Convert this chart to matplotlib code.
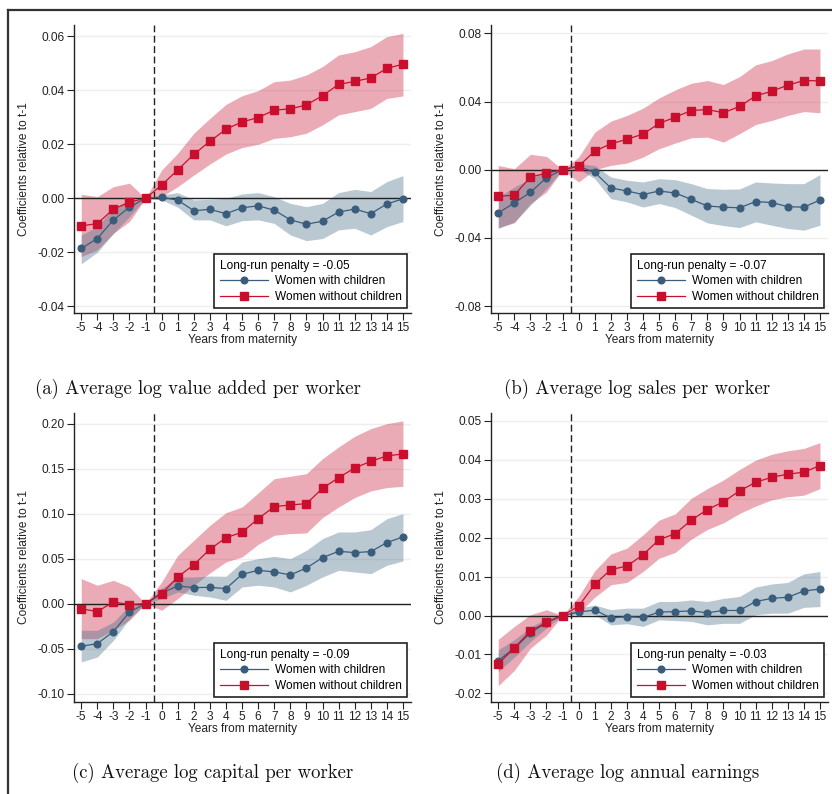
import matplotlib
matplotlib.use("Agg")
import matplotlib.pyplot as plt
from matplotlib.lines import Line2D

plt.rcParams['font.family'] = ['Liberation Sans', 'DejaVu Sans']
plt.rcParams['axes.unicode_minus'] = False

years = list(range(-5, 16))

# (a) value added per worker
a_with = [-0.0186, -0.0149, -0.0080, -0.0033, 0.0, 0.0004, -0.0007, -0.0046, -0.0041, -0.0057, -0.0035,
          -0.0028, -0.0044, -0.0080, -0.0096, -0.0085, -0.0051, -0.0040, -0.0057, -0.0021, -0.0002]
a_with_lo = [-0.0243, -0.0200, -0.0130, -0.0068, 0.0, -0.0006, -0.0033, -0.0080, -0.0080, -0.0102, -0.0083,
             -0.0080, -0.0093, -0.0136, -0.0157, -0.0149, -0.0117, -0.0111, -0.0136, -0.0105, -0.0086]
a_with_hi = [-0.0136, -0.0105, -0.0037, -0.0006, 0.0, 0.0012, 0.0021, -0.0006, -0.0004, 0.0000, 0.0016,
             0.0021, 0.0006, -0.0019, -0.0031, -0.0019, 0.0021, 0.0033, 0.0025, 0.0062, 0.0084]
a_without = [-0.0102, -0.0094, -0.0040, -0.0014, 0.0, 0.0049, 0.0105, 0.0163, 0.0211, 0.0256, 0.0283,
             0.0299, 0.0327, 0.0331, 0.0346, 0.0380, 0.0422, 0.0433, 0.0446, 0.0481, 0.0497]
a_without_lo = [-0.0216, -0.0191, -0.0130, -0.0086, 0.0, 0.0006, 0.0043, 0.0086, 0.0127, 0.0164, 0.0188,
                0.0200, 0.0222, 0.0228, 0.0241, 0.0272, 0.0309, 0.0321, 0.0333, 0.0370, 0.0379]
a_without_hi = [0.0015, 0.0006, 0.0043, 0.0056, 0.0, 0.0105, 0.0167, 0.0241, 0.0296, 0.0348, 0.0380,
                0.0399, 0.0432, 0.0438, 0.0457, 0.0488, 0.0531, 0.0543, 0.0562, 0.0599, 0.0611]

# (b) sales per worker
b_with = [-0.0254, -0.0195, -0.0133, -0.0047, 0.0, 0.0020, -0.0016, -0.0107, -0.0125, -0.0146, -0.0125,
          -0.0137, -0.0174, -0.0213, -0.0220, -0.0224, -0.0187, -0.0193, -0.0217, -0.0220, -0.0178]
b_with_lo = [-0.0345, -0.0306, -0.0209, -0.0111, 0.0, 0.0006, -0.0053, -0.0170, -0.0189, -0.0219, -0.0199,
             -0.0222, -0.0267, -0.0312, -0.0328, -0.0340, -0.0306, -0.0326, -0.0345, -0.0355, -0.0326]
b_with_hi = [-0.0160, -0.0101, -0.0053, -0.0004, 0.0, 0.0035, 0.0025, -0.0043, -0.0062, -0.0072, -0.0053,
             -0.0059, -0.0082, -0.0111, -0.0115, -0.0113, -0.0072, -0.0078, -0.0082, -0.0082, -0.0029]
b_without = [-0.0156, -0.0150, -0.0043, -0.0020, 0.0, 0.0021, 0.0109, 0.0152, 0.0178, 0.0209, 0.0271,
             0.0308, 0.0347, 0.0353, 0.0334, 0.0371, 0.0433, 0.0460, 0.0496, 0.0523, 0.0521]
b_without_lo = [-0.0340, -0.0312, -0.0199, -0.0131, 0.0, -0.0072, 0.0000, 0.0025, 0.0039, 0.0074, 0.0123,
                0.0156, 0.0187, 0.0191, 0.0162, 0.0211, 0.0265, 0.0289, 0.0318, 0.0341, 0.0334]
b_without_hi = [0.0025, 0.0006, 0.0090, 0.0078, 0.0, 0.0074, 0.0220, 0.0285, 0.0318, 0.0361, 0.0421,
                0.0468, 0.0507, 0.0523, 0.0500, 0.0546, 0.0615, 0.0640, 0.0679, 0.0708, 0.0708]

# (c) capital per worker
c_with = [-0.0474, -0.0444, -0.0311, -0.0093, 0.0, 0.0119, 0.0196, 0.0178, 0.0181, 0.0167, 0.0326,
          0.0370, 0.0352, 0.0319, 0.0396, 0.0511, 0.0581, 0.0567, 0.0578, 0.0678, 0.0741]
c_with_lo = [-0.0648, -0.0593, -0.0407, -0.0167, 0.0, 0.0056, 0.0130, 0.0093, 0.0074, 0.0037, 0.0185,
             0.0204, 0.0185, 0.0130, 0.0204, 0.0296, 0.0370, 0.0352, 0.0333, 0.0426, 0.0474]
c_with_hi = [-0.0296, -0.0296, -0.0204, -0.0019, 0.0, 0.0167, 0.0296, 0.0296, 0.0307, 0.0304, 0.0463,
             0.0500, 0.0526, 0.0500, 0.0593, 0.0722, 0.0796, 0.0796, 0.0822, 0.0944, 0.1000]
c_without = [-0.0056, -0.0089, 0.0019, -0.0011, 0.0, 0.0111, 0.0296, 0.0433, 0.0604, 0.0733, 0.0793,
             0.0944, 0.1078, 0.1096, 0.1111, 0.1281, 0.1400, 0.1507, 0.1581, 0.1641, 0.1663]
c_without_lo = [-0.0389, -0.0389, -0.0296, -0.0185, 0.0, -0.0074, 0.0056, 0.0204, 0.0341, 0.0463, 0.0519,
                0.0659, 0.0759, 0.0778, 0.0785, 0.0956, 0.1074, 0.1178, 0.1252, 0.1289, 0.1304]
c_without_hi = [0.0278, 0.0204, 0.0259, 0.0185, 0.0, 0.0241, 0.0537, 0.0704, 0.0870, 0.1011, 0.1074,
                0.1230, 0.1389, 0.1415, 0.1444, 0.1611, 0.1741, 0.1859, 0.1944, 0.2000, 0.2030]

# (d) annual earnings
d_with = [-0.0116, -0.0084, -0.0045, -0.0018, 0.0, 0.0009, 0.0014, -0.0006, -0.0003, -0.0005, 0.0009,
          0.0010, 0.0012, 0.0007, 0.0013, 0.0013, 0.0036, 0.0044, 0.0047, 0.0063, 0.0068]
d_with_lo = [-0.0144, -0.0107, -0.0067, -0.0032, 0.0, 0.0002, 0.0002, -0.0024, -0.0021, -0.0028, -0.0011,
             -0.0013, -0.0015, -0.0024, -0.0020, -0.0020, 0.0002, 0.0006, 0.0006, 0.0021, 0.0023]
d_with_hi = [-0.0088, -0.0062, -0.0030, -0.0007, 0.0, 0.0019, 0.0027, 0.0015, 0.0019, 0.0019, 0.0036,
             0.0036, 0.0040, 0.0036, 0.0044, 0.0049, 0.0073, 0.0081, 0.0085, 0.0107, 0.0113]
d_without = [-0.0124, -0.0083, -0.0040, -0.0017, 0.0, 0.0024, 0.0080, 0.0118, 0.0127, 0.0156, 0.0195,
             0.0210, 0.0245, 0.0272, 0.0292, 0.0320, 0.0342, 0.0355, 0.0363, 0.0368, 0.0385]
d_without_lo = [-0.0180, -0.0141, -0.0084, -0.0050, 0.0, 0.0006, 0.0047, 0.0079, 0.0085, 0.0113, 0.0147,
                0.0162, 0.0196, 0.0221, 0.0238, 0.0262, 0.0281, 0.0297, 0.0305, 0.0309, 0.0326]
d_without_hi = [-0.0061, -0.0028, 0.0002, 0.0015, 0.0, 0.0049, 0.0115, 0.0158, 0.0173, 0.0207, 0.0245,
                0.0261, 0.0301, 0.0326, 0.0348, 0.0375, 0.0399, 0.0414, 0.0423, 0.0429, 0.0444]

penalties = ['-0.05', '-0.07', '-0.09', '-0.03']
captions = ['(a) Average log value added per worker', '(b) Average log sales per worker',
            '(c) Average log capital per worker', '(d) Average log annual earnings']
yticks_list = [[-0.04, -0.02, 0.00, 0.02, 0.04, 0.06],
               [-0.08, -0.04, 0.00, 0.04, 0.08],
               [-0.10, -0.05, 0.00, 0.05, 0.10, 0.15, 0.20],
               [-0.02, -0.01, 0.00, 0.01, 0.02, 0.03, 0.04, 0.05]]
ylims = [(-0.0425, 0.0642), (-0.0841, 0.0849), (-0.1093, 0.2118), (-0.0222, 0.0520)]

panels = [
    (a_with, a_with_lo, a_with_hi, a_without, a_without_lo, a_without_hi),
    (b_with, b_with_lo, b_with_hi, b_without, b_without_lo, b_without_hi),
    (c_with, c_with_lo, c_with_hi, c_without, c_without_lo, c_without_hi),
    (d_with, d_with_lo, d_with_hi, d_without, d_without_lo, d_without_hi),
]

blue = '#3a5d7c'
red = '#c8102e'
W, H = 832, 794

fig = plt.figure(figsize=(8.32, 7.94), dpi=100)

# axes boxes in pixels: left, top, right, bottom
boxes = [(74, 25, 411, 313), (491, 25, 828, 313), (74, 413, 411, 702), (491, 413, 828, 702)]
caption_pos = [(198, 389), (637, 389), (213, 773), (628, 773)]

for i, (wi, wi_lo, wi_hi, wo, wo_lo, wo_hi) in enumerate(panels):
    l, t, r, b = boxes[i]
    ax = fig.add_axes([l / W, (H - b) / H, (r - l) / W, (b - t) / H])

    ax.fill_between(years, wo_lo, wo_hi, color=red, alpha=0.35, linewidth=0)
    ax.fill_between(years, wi_lo, wi_hi, color='#4a6f8a', alpha=0.38, linewidth=0)

    ax.axhline(0, color='#222222', linewidth=1.0, zorder=2)
    ax.axvline(-0.5, color='#222222', linewidth=1.0, linestyle=(0, (5, 2.5)), zorder=2)

    ax.plot(years, wi, color=blue, marker='o', markersize=4.8, linewidth=0.9,
            label='Women with children', zorder=3)
    ax.plot(years, wo, color=red, marker='s', markersize=5.2, linewidth=0.9,
            label='Women without children', zorder=4)

    ax.set_xlim(-5.45, 15.5)
    ax.set_ylim(*ylims[i])
    ax.set_xticks(years)
    ax.set_yticks(yticks_list[i])
    ax.set_yticklabels(['%.2f' % v for v in yticks_list[i]])
    ax.grid(axis='y', color='#eeeeee', linewidth=1.0)
    ax.set_axisbelow(True)

    for s in ['top', 'right']:
        ax.spines[s].set_visible(False)
    for s in ['left', 'bottom']:
        ax.spines[s].set_color('#222222')
        ax.spines[s].set_linewidth(1.0)
    ax.tick_params(direction='out', length=5, width=0.8, color='#222222',
                   labelsize=8.6, labelcolor='#222222', pad=1.5)

    ax.set_ylabel('Coefficients relative to t-1', fontsize=8.6, color='#222222', labelpad=6)
    ax.set_xlabel('Years from maternity', fontsize=8.6, color='#222222', labelpad=0)

    leg = ax.legend(loc='lower right', bbox_to_anchor=(0.988, 0.016), borderaxespad=0,
                    title='Long-run penalty = ' + penalties[i], title_fontsize=8.6,
                    alignment='left', fontsize=8.6, fancybox=False, framealpha=1,
                    edgecolor='#222222', handlelength=4.0, handletextpad=0.6,
                    labelspacing=0.3, borderpad=0.45)
    leg.get_frame().set_linewidth(1.2)

    cx, cy = caption_pos[i]
    fig.text(cx / W, (H - cy) / H, captions[i], family='cmr10', fontsize=13.5,
             ha='center', va='center', color='#111111')

# border around the figure (top and left sides)
fig.add_artist(Line2D([8 / W, 8 / W], [0, (H - 10) / H], color='#333333', linewidth=1.6))
fig.add_artist(Line2D([8 / W, 1], [(H - 10) / H, (H - 10) / H], color='#333333', linewidth=1.6))

plt.savefig('out.png', dpi=100)
